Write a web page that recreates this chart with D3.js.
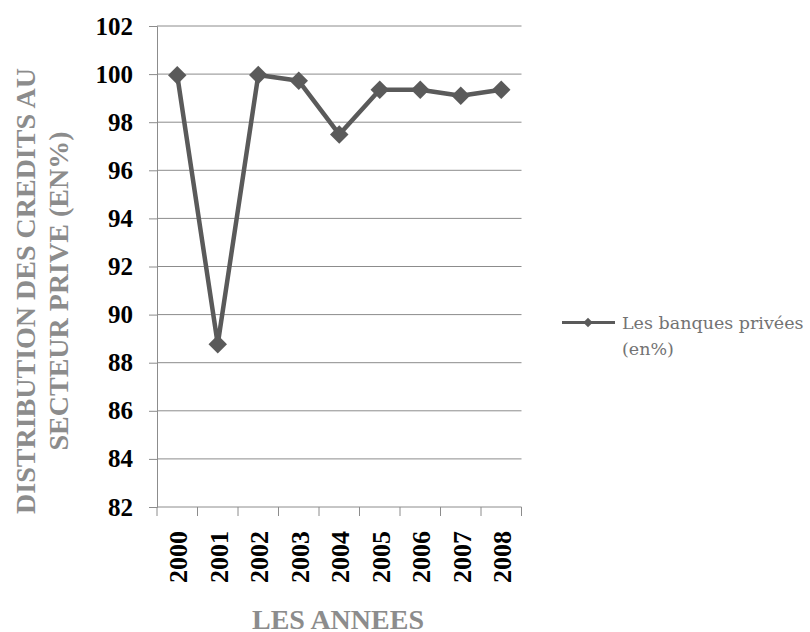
<!DOCTYPE html>
<html>
<head>
<meta charset="utf-8">
<script src="https://cdn.jsdelivr.net/npm/d3@7"></script>
<style>
  html, body { margin: 0; padding: 0; background: #fff; }
  svg { display: block; }
</style>
</head>
<body>
<svg id="chart" width="810" height="632"></svg>
<script>
// Share of credit to the private sector distributed by private banks (%)
const years = ["2000", "2001", "2002", "2003", "2004", "2005", "2006", "2007", "2008"];
const banquesPrivees = [99.95, 88.77, 99.96, 99.72, 97.49, 99.35, 99.35, 99.1, 99.35];
const yTicks = [82, 84, 86, 88, 90, 92, 94, 96, 98, 100, 102];
const seriesName = ["Les banques privées", "(en%)"];

const svg = d3.select("#chart");
const plot = { left: 157, right: 521.5, top: 26, bottom: 507 };
const lineColor = "#5a5a5a";
const gridColor = "#8c8c8c";
const serif = "Liberation Serif, Times New Roman, serif";

const x = d3.scaleBand().domain(years).range([plot.left, plot.right]);
const y = d3.scaleLinear().domain([82, 102]).range([plot.bottom, plot.top]);

// horizontal gridlines
svg.append("g")
  .selectAll("line")
  .data(yTicks.filter(t => t !== 82))
  .join("line")
  .attr("x1", plot.left).attr("x2", plot.right)
  .attr("y1", d => y(d)).attr("y2", d => y(d))
  .attr("stroke", gridColor).attr("stroke-width", 1);

// y axis
const yAxis = svg.append("g")
  .attr("transform", `translate(${plot.left},0)`)
  .call(d3.axisLeft(y).tickValues(yTicks).tickSize(8).tickPadding(16));
yAxis.select(".domain").attr("stroke", gridColor);
yAxis.selectAll(".tick line").attr("stroke", gridColor);
yAxis.selectAll(".tick text")
  .attr("font-family", serif)
  .attr("font-weight", "bold")
  .attr("font-size", 25)
  .attr("fill", "#000");

// x axis with ticks at category boundaries
const xAxis = svg.append("g").attr("transform", `translate(0,${plot.bottom})`);
xAxis.append("line")
  .attr("x1", plot.left).attr("x2", plot.right)
  .attr("stroke", gridColor);
xAxis.selectAll("line.tk")
  .data(years.concat(["end"]))
  .join("line")
  .attr("class", "tk")
  .attr("x1", (d, i) => plot.left + i * x.step())
  .attr("x2", (d, i) => plot.left + i * x.step())
  .attr("y1", 0).attr("y2", 9)
  .attr("stroke", gridColor);
xAxis.selectAll("text")
  .data(years)
  .join("text")
  .attr("transform", d => `translate(${x(d) + x.bandwidth() / 2 + 10},24) rotate(-90)`)
  .attr("text-anchor", "end")
  .attr("font-family", serif)
  .attr("font-weight", "bold")
  .attr("font-size", 26)
  .attr("fill", "#000")
  .text(d => d);

// series line
const cx = d => x(d) + x.bandwidth() / 2;
const line = d3.line()
  .x((d, i) => cx(years[i]))
  .y(d => y(d));
svg.append("path")
  .datum(banquesPrivees)
  .attr("d", line)
  .attr("fill", "none")
  .attr("stroke", lineColor)
  .attr("stroke-width", 4.5)
  .attr("stroke-linejoin", "round");

// diamond markers
svg.append("g")
  .selectAll("path")
  .data(banquesPrivees)
  .join("path")
  .attr("transform", (d, i) => `translate(${cx(years[i])},${y(d)}) rotate(45)`)
  .attr("d", d3.symbol().type(d3.symbolSquare).size(170))
  .attr("fill", lineColor);

// axis titles
const titleColor = "#8c8c8c";
const yTitle = svg.append("text")
  .attr("transform", "translate(0,291) rotate(-90)")
  .attr("text-anchor", "middle")
  .attr("font-family", serif)
  .attr("font-weight", "bold")
  .attr("font-size", 28)
  .attr("fill", titleColor);
yTitle.append("tspan").attr("x", 0).attr("y", 35).text("DISTRIBUTION DES CREDITS AU");
yTitle.append("tspan").attr("x", 0).attr("y", 68).text("SECTEUR PRIVE (EN%)");

svg.append("text")
  .attr("x", 338).attr("y", 628.5)
  .attr("text-anchor", "middle")
  .attr("font-family", serif)
  .attr("font-weight", "bold")
  .attr("font-size", 28)
  .attr("fill", titleColor)
  .text("LES ANNEES");

// legend
const lg = svg.append("g").attr("transform", "translate(562,322.5)");
lg.append("line").attr("x1", 0).attr("x2", 53)
  .attr("stroke", lineColor).attr("stroke-width", 3);
lg.append("path")
  .attr("transform", "translate(26,0) rotate(45)")
  .attr("d", d3.symbol().type(d3.symbolSquare).size(45))
  .attr("fill", lineColor);
lg.selectAll("text")
  .data(seriesName)
  .join("text")
  .attr("x", 60)
  .attr("y", (d, i) => 6.5 + i * 26)
  .attr("font-family", "DejaVu Serif, serif")
  .attr("font-size", 17.5)
  .attr("fill", "#737373")
  .text(d => d);
</script>
</body>
</html>
